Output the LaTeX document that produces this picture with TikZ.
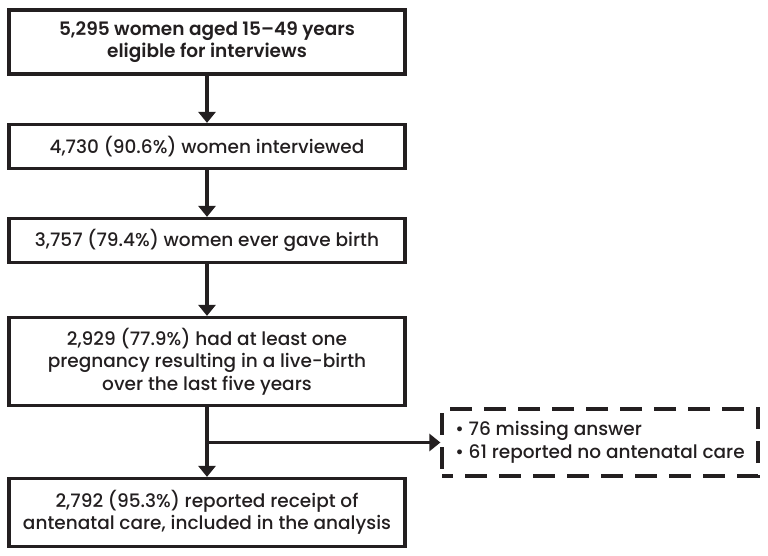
\documentclass[tikz,border=0pt]{standalone}
\usepackage{fontspec}
\setmainfont{Poppins}[UprightFont={* Medium}, BoldFont={* SemiBold}]
\usepackage{xcolor}
\usepackage{tikz}
\usetikzlibrary{arrows.meta, positioning, calc}
\definecolor{ink}{RGB}{35, 31, 32}

\begin{document}
\begin{tikzpicture}[
    x=1pt, y=1pt,
    box/.style={rectangle, draw=ink, line width=3.2pt, minimum width=396pt, align=center, font=\fontsize{18.5}{22.5}\selectfont, text=ink, inner sep=0pt},
    excl/.style={rectangle, draw=ink, line width=3.2pt, dash pattern=on 22pt off 12pt, dash phase=11pt, minimum width=316pt, minimum height=67pt, align=left, font=\fontsize{18.5}{22.5}\selectfont, text=ink, inner sep=0pt},
    arr/.style={line width=3.2pt, draw=ink, -{Triangle[width=17pt,length=11pt]}}
]
\useasboundingbox (0,0) rectangle (768,-556);

\node[box, minimum height=64pt, font=\fontsize{18.5}{22.5}\selectfont\bfseries] (elig) at (207,-42) {5,295 women aged 15--49 years\\eligible for interviews};
\node[box, minimum height=44pt] (interv) at (207,-146.5) {4,730 (90.6\%) women interviewed};
\node[box, minimum height=44pt] (birth) at (207,-240.5) {3,757 (79.4\%) women ever gave birth};
\node[box, minimum height=88pt] (live) at (207,-361.5) {2,929 (77.9\%) had at least one\\pregnancy resulting in a live-birth\\over the last five years};
\node[box, minimum height=68pt] (anc) at (207,-512.5) {2,792 (95.3\%) reported receipt of\\antenatal care, included in the analysis};
\node[excl] (miss) at (600,-442.5) {• 76 missing answer\\• 61 reported no antenatal care};

\draw[arr] (elig) -- (interv);
\draw[arr] (interv) -- (birth);
\draw[arr] (birth) -- (live);
\draw[arr] (live) -- (anc);
\coordinate (split) at (live.south |- miss.west);
\draw[arr] (split) -- (miss.west);
\end{tikzpicture}
\end{document}
